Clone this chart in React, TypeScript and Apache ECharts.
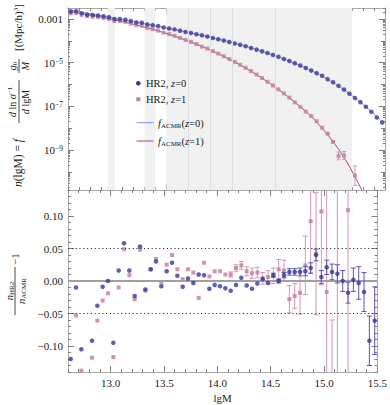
import React, { useEffect, useRef } from "react";
import * as echarts from "echarts";

// ---------- DATA ----------
const lgM = [
  12.625, 12.675, 12.725, 12.775, 12.825, 12.875, 12.925, 12.975,
  13.025, 13.075, 13.125, 13.175, 13.225, 13.275, 13.325, 13.375, 13.425, 13.475,
  13.525, 13.575, 13.625, 13.675, 13.725, 13.775, 13.825, 13.875, 13.925, 13.975,
  14.025, 14.075, 14.125, 14.175, 14.225, 14.275, 14.325, 14.375, 14.425, 14.475,
  14.525, 14.575, 14.625, 14.675, 14.725, 14.775, 14.825, 14.875, 14.925, 14.975,
  15.025, 15.075, 15.125, 15.175, 15.225, 15.275, 15.325, 15.375, 15.425, 15.475,
];

// log10 of f_ACMR model n(lgM)
const modelZ0 = [
  -2.6, -2.645, -2.69, -2.735, -2.781, -2.827, -2.873, -2.919,
  -2.965, -3.011, -3.057, -3.104, -3.151, -3.198, -3.246, -3.294, -3.342, -3.391,
  -3.44, -3.49, -3.541, -3.593, -3.646, -3.7, -3.755, -3.811, -3.868, -3.927,
  -3.988, -4.051, -4.116, -4.183, -4.253, -4.326, -4.402, -4.481, -4.563, -4.649,
  -4.739, -4.833, -4.931, -5.034, -5.141, -5.253, -5.37, -5.492, -5.62, -5.76,
  -5.91, -6.07, -6.24, -6.42, -6.61, -6.81, -7.02, -7.24, -7.47, -7.71,
];
const modelZ1 = [
  -2.67, -2.712, -2.755, -2.799, -2.844, -2.891, -2.94, -2.991,
  -3.044, -3.099, -3.156, -3.215, -3.277, -3.341, -3.408, -3.478, -3.551, -3.627,
  -3.706, -3.789, -3.875, -3.965, -4.059, -4.157, -4.259, -4.366, -4.477, -4.593,
  -4.714, -4.84, -4.971, -5.108, -5.25, -5.398, -5.552, -5.712, -5.878, -6.05,
  -6.229, -6.415, -6.608, -6.808, -7.016, -7.232, -7.456, -7.72, -8.0, -8.3,
  -8.62, -8.96, -9.33, -9.76, -10.22, -10.7, -11.2, -11.72, -12.26, -12.82,
];

// n_HR2 / n_ACMR - 1
const resZ0 = [
  -0.12, -0.01, -0.105, -0.15, -0.092, -0.038, -0.009, 0.0,
  -0.095, 0.016, 0.058, 0.016, -0.023, 0.053, -0.013, 0.018, 0.03, -0.008,
  0.015, 0.028, 0.008, -0.009, 0.004, -0.003, 0.01, 0.009, -0.012, -0.006,
  -0.008, -0.011, -0.015, -0.006, 0.005, -0.007, -0.012, -0.004, 0.003, -0.003,
  0.009, 0.0, 0.009, 0.014, 0.014, 0.014, 0.015, 0.02, 0.04, 0.006,
  0.021, 0.014, 0.011, 0.0, -0.018, 0.002, -0.003, -0.017, -0.092, -0.061,
];
const resZ1: (number | null)[] = [
  -0.16, -0.053, -0.138, -0.16, -0.118, -0.061, -0.03, -0.019,
  -0.117, -0.01, 0.049, 0.009, -0.028, 0.048, -0.015, 0.018, 0.034, -0.002,
  0.025, 0.04, 0.018, 0.003, 0.018, 0.013, -0.026, 0.028, 0.007, 0.015,
  0.015, 0.01, 0.01, 0.02, 0.024, 0.015, 0.012, 0.013, 0.004, 0.006,
  0.008, 0.018, 0.016, -0.028, -0.023, -0.018, 0.024, 0.092, 0.042, 0.107,
  -0.017, -0.51, 0.2, null, 0.109, null, null, null, null, null,
];
// relative error bars (bottom panel)
const errZ0 = [
  0, 0, 0, 0, 0, 0, 0, 0,
  0, 0, 0, 0, 0, 0, 0, 0, 0, 0,
  0, 0, 0, 0, 0, 0, 0, 0, 0, 0,
  0, 0, 0, 0, 0, 0, 0, 0, 0, 0,
  0.003, 0.003, 0.004, 0.005, 0.005, 0.006, 0.007, 0.008, 0.009, 0.01,
  0.011, 0.012, 0.014, 0.016, 0.016, 0.018, 0.025, 0.03, 0.038, 0.052,
];
const errZ1 = [
  0, 0, 0, 0, 0, 0, 0, 0,
  0, 0, 0, 0, 0, 0, 0, 0, 0, 0,
  0, 0, 0, 0, 0, 0, 0, 0, 0, 0,
  0, 0, 0.004, 0.005, 0.006, 0.007, 0.008, 0.008, 0.009, 0.01,
  0.012, 0.015, 0.016, 0.021, 0.019, 0.033, 0.045, 0.08, 0.094, 0.113,
  0.3, 0.45, 0.35, 0, 0.5, 0, 0, 0, 0, 0,
];
// error bars in dex for the top panel (z=1 tail)
const topErrZ1 = [
  0, 0, 0, 0, 0, 0, 0, 0,
  0, 0, 0, 0, 0, 0, 0, 0, 0, 0,
  0, 0, 0, 0, 0, 0, 0, 0, 0, 0,
  0, 0, 0, 0, 0, 0, 0, 0, 0, 0,
  0, 0, 0, 0, 0, 0, 0, 0, 0, 0.03,
  0.05, 0.18, 0.18, 0, 0.45, 0, 0, 0, 0, 0,
];

const xMajorTicks = [13.0, 13.5, 14.0, 14.5, 15.0, 15.5];
const topYMajor = [-3, -5, -7, -9];
const topYDecades = [-4, -6, -8, -10];
const resYMajor = [-0.1, -0.05, 0, 0.05, 0.1];
const bandRanges = [
  [12.965, 13.03],
  [13.3, 13.4],
  [13.5, 15.2],
];
const bandLines = [13.7, 13.9, 14.1, 14.5];

// ---------- STYLE ----------
const SERIF = '"Liberation Serif", "Times New Roman", serif';
const BLUE = "#38389a";
const PINK = "#c47c9e";
const BLUE_LINE = "#8c8dd0";
const PINK_LINE = "#a24c7a";
const BLUE_ERR = "#5656b4";
const PINK_ERR = "#d597b4";
const FRAME = "#a8a8a8";
const TICK = "#808080";
const TXT = "#1a1a1a";

const X_MIN = 12.6, X_MAX = 15.5;
const TOP_MIN = -10.83, TOP_MAX = -2.5;
const RES_MIN = -0.14, RES_MAX = 0.14;

function fmtRes(v: number) {
  const s = Math.abs(v).toFixed(2);
  return v < -1e-9 ? "\u2212" + s : s;
}

function buildOption() {
  const minorX: number[] = [];
  for (let k = 126; k <= 155; k++) if (k % 5 !== 0) minorX.push(k / 10);
  const subTop: number[] = [];
  for (let d = -11; d <= -3; d++) {
    for (let k = 2; k <= 9; k++) {
      const v = d + Math.log10(k);
      if (v > TOP_MIN && v < TOP_MAX) subTop.push(v);
    }
  }
  const minorRes: number[] = [];
  for (let k = -14; k <= 14; k++) if (k % 5 !== 0) minorRes.push(k / 100);

  const xAx = (grid: number, pos: string, ticks: number[], len: number, line: boolean, labels = false) => ({
    type: "value", gridIndex: grid, position: pos, min: X_MIN, max: X_MAX,
    axisLine: { show: line, onZero: false, lineStyle: { color: FRAME, width: 1 } },
    axisTick: { show: true, inside: true, length: len, customValues: ticks, lineStyle: { color: TICK, width: 1 } },
    axisLabel: labels
      ? { show: true, customValues: ticks, margin: 5, color: TXT, fontFamily: SERIF, fontSize: 11,
          formatter: (v: number) => v.toFixed(1), showMaxLabel: true,
          alignMaxLabel: "center", alignMinLabel: "center", hideOverlap: false }
      : { show: false },
    splitLine: { show: false },
    name: labels ? "lgM" : "",
    nameLocation: "middle",
    nameGap: 20,
    nameTextStyle: { color: TXT, fontFamily: SERIF, fontSize: 11 },
  });
  const yAx = (grid: number, pos: string, min: number, max: number, ticks: number[], len: number, line: boolean, label: any = null) => ({
    type: "value", gridIndex: grid, position: pos, min, max,
    axisLine: { show: line, onZero: false, lineStyle: { color: FRAME, width: 1 } },
    axisTick: { show: true, inside: true, length: len, customValues: ticks, lineStyle: { color: TICK, width: 1 } },
    axisLabel: label ? label : { show: false },
    splitLine: { show: false },
  });

  const topLabel = {
    show: true, customValues: topYMajor, margin: 5, color: TXT, fontFamily: SERIF, fontSize: 11,
    formatter: (v: number) => (Math.round(v) === -3 ? "0.001" : "10{sup|\u2212" + Math.abs(Math.round(v)) + "}"),
    rich: { sup: { fontSize: 7.5, fontFamily: SERIF, color: TXT, verticalAlign: "top", lineHeight: 8, padding: [0, 0, 6, 0] } },
  };
  const resLabel = {
    show: true, customValues: resYMajor, margin: 5, color: TXT, fontFamily: SERIF, fontSize: 11,
    formatter: (v: number) => fmtRes(v),
  };

  const topPts0 = lgM.map((x, i) => [x, modelZ0[i] + Math.log10(1 + resZ0[i])]);
  const topPts1 = lgM
    .map((x, i) => (resZ1[i] === null ? null : [x, modelZ1[i] + Math.log10(1 + (resZ1[i] as number))]))
    .filter((p) => p !== null) as number[][];
  const topErr1 = topPts1
    .map((p) => {
      const i = lgM.indexOf(p[0]);
      return topErrZ1[i] > 0 ? [p[0], p[1] - topErrZ1[i], p[1] + topErrZ1[i]] : null;
    })
    .filter((p) => p !== null);

  const botPts0 = lgM.map((x, i) => [x, resZ0[i]]);
  const botPts1 = lgM.map((x, i) => (resZ1[i] === null ? null : [x, resZ1[i]])).filter((p) => p !== null);
  const botErr0 = lgM.map((x, i) => (errZ0[i] > 0 ? [x, resZ0[i] - errZ0[i], resZ0[i] + errZ0[i]] : null)).filter((p) => p !== null);
  const botErr1 = lgM
    .map((x, i) => (errZ1[i] > 0 && resZ1[i] !== null ? [x, (resZ1[i] as number) - errZ1[i], (resZ1[i] as number) + errZ1[i]] : null))
    .filter((p) => p !== null);

  const errRender = (color: string, cap: number) => (params: any, api: any) => {
    const x = api.value(0);
    const a = api.coord([x, api.value(1)]);
    const b = api.coord([x, api.value(2)]);
    const st = { stroke: color, lineWidth: 1 };
    return {
      type: "group",
      children: [
        { type: "line", shape: { x1: a[0], y1: a[1], x2: b[0], y2: b[1] }, style: st },
        { type: "line", shape: { x1: a[0] - cap, y1: a[1], x2: a[0] + cap, y2: a[1] }, style: st },
        { type: "line", shape: { x1: b[0] - cap, y1: b[1], x2: b[0] + cap, y2: b[1] }, style: st },
      ],
    };
  };

  const txtStyle = (text: string, extra: any = {}) => ({
    text,
    fontFamily: SERIF,
    fontSize: 10.5,
    fill: TXT,
    verticalAlign: "middle",
    align: "left",
    rich: {
      i: { fontStyle: "italic", fontFamily: SERIF, fontSize: 10.5, fill: TXT },
      sub: { fontFamily: SERIF, fontSize: 7, fill: TXT, padding: [5, 0, 0, 0] },
      sup: { fontFamily: SERIF, fontSize: 7, fill: TXT, padding: [0, 0, 5, 0] },
    },
    ...extra,
  });

  return {
    animation: false,
    backgroundColor: "#ffffff",
    grid: [
      { left: 68, top: 8, width: 317, height: 182 },
      { left: 68, top: 190, width: 317, height: 182 },
    ],
    xAxis: [
      xAx(0, "bottom", minorX, 3, true),
      xAx(0, "bottom", xMajorTicks, 6, false),
      xAx(0, "top", minorX, 3, true),
      xAx(0, "top", xMajorTicks, 6, false),
      xAx(1, "bottom", minorX, 3, true),
      xAx(1, "bottom", xMajorTicks, 6, false, true),
      xAx(1, "top", minorX, 3, true),
      xAx(1, "top", xMajorTicks, 6, false),
    ],
    yAxis: [
      yAx(0, "left", TOP_MIN, TOP_MAX, topYMajor, 6, true, topLabel),
      yAx(0, "left", TOP_MIN, TOP_MAX, topYDecades, 4, false),
      yAx(0, "left", TOP_MIN, TOP_MAX, subTop, 2, false),
      yAx(0, "right", TOP_MIN, TOP_MAX, topYMajor, 6, true),
      yAx(0, "right", TOP_MIN, TOP_MAX, topYDecades, 4, false),
      yAx(0, "right", TOP_MIN, TOP_MAX, subTop, 2, false),
      yAx(1, "left", RES_MIN, RES_MAX, resYMajor, 6, true, resLabel),
      yAx(1, "left", RES_MIN, RES_MAX, minorRes, 3, false),
      yAx(1, "right", RES_MIN, RES_MAX, resYMajor, 6, true),
      yAx(1, "right", RES_MIN, RES_MAX, minorRes, 3, false),
    ],
    series: [
      {
        type: "line", xAxisIndex: 0, yAxisIndex: 0, data: [], z: 0, silent: true,
        markArea: {
          silent: true,
          itemStyle: { color: "#f1f1f1" },
          data: bandRanges.map(([a, b]) => [{ xAxis: a }, { xAxis: b }]),
        },
        markLine: {
          silent: true, symbol: "none", label: { show: false },
          lineStyle: { color: "#dedede", width: 1, type: "solid" },
          data: bandLines.map((v) => ({ xAxis: v })),
        },
      },
      {
        type: "line", xAxisIndex: 0, yAxisIndex: 0, z: 2, symbol: "none", silent: true,
        lineStyle: { color: BLUE_LINE, width: 1 },
        data: lgM.map((x, i) => [x, modelZ0[i]]),
      },
      {
        type: "line", xAxisIndex: 0, yAxisIndex: 0, z: 2, symbol: "none", silent: true,
        lineStyle: { color: PINK_LINE, width: 1 },
        data: lgM.map((x, i) => [x, modelZ1[i]]),
      },
      {
        type: "custom", xAxisIndex: 0, yAxisIndex: 0, z: 3, clip: true, silent: true,
        renderItem: errRender(PINK_ERR, 2),
        encode: { x: 0, y: [1, 2] },
        data: topErr1,
      },
      {
        type: "scatter", xAxisIndex: 0, yAxisIndex: 0, z: 4, symbol: "rect", symbolSize: 4,
        itemStyle: { color: PINK }, data: topPts1, clip: true, silent: true,
      },
      {
        type: "scatter", xAxisIndex: 0, yAxisIndex: 0, z: 4, symbol: "circle", symbolSize: 4.6,
        itemStyle: { color: BLUE }, data: topPts0, clip: true, silent: true,
      },
      // bottom panel reference lines
      {
        type: "line", xAxisIndex: 4, yAxisIndex: 6, data: [], z: 1, silent: true,
        markLine: {
          silent: true, symbol: "none", label: { show: false },
          data: [
            { yAxis: 0, lineStyle: { color: "#a0a0a0", width: 2, type: "solid" } },
            { yAxis: 0.05, lineStyle: { color: "#333", width: 1, type: [1.2, 2.6] } },
            { yAxis: -0.05, lineStyle: { color: "#333", width: 1, type: [1.2, 2.6] } },
          ],
        },
      },
      {
        type: "custom", xAxisIndex: 4, yAxisIndex: 6, z: 3, clip: true, silent: true,
        renderItem: errRender(PINK_ERR, 2.5),
        encode: { x: 0, y: [1, 2] },
        data: botErr1,
      },
      {
        type: "scatter", xAxisIndex: 4, yAxisIndex: 6, z: 4, symbol: "rect", symbolSize: 4,
        itemStyle: { color: PINK }, data: botPts1, clip: true, silent: true,
      },
      {
        type: "custom", xAxisIndex: 4, yAxisIndex: 6, z: 5, clip: true, silent: true,
        renderItem: errRender(BLUE_ERR, 2.5),
        encode: { x: 0, y: [1, 2] },
        data: botErr0,
      },
      {
        type: "scatter", xAxisIndex: 4, yAxisIndex: 6, z: 6, symbol: "circle", symbolSize: 4.6,
        itemStyle: { color: BLUE }, data: botPts0, clip: true, silent: true,
      },
    ],
    graphic: [
      // legend
      { type: "circle", z: 100, shape: { cx: 138.3, cy: 83.3, r: 2.3 }, style: { fill: BLUE } },
      { type: "text", z: 100, x: 146, y: 83.5, style: txtStyle("HR2, {i|z}=0") },
      { type: "rect", z: 100, shape: { x: 136.3, y: 97.3, width: 4, height: 4 }, style: { fill: PINK } },
      { type: "text", z: 100, x: 146, y: 99.5, style: txtStyle("HR2, {i|z}=1") },
      { type: "line", z: 100, shape: { x1: 136.5, y1: 122.7, x2: 153.5, y2: 122.7 }, style: { stroke: BLUE_LINE, lineWidth: 1 } },
      { type: "text", z: 100, x: 158, y: 123, style: txtStyle("{i|f}{sub|ACMR}({i|z}=0)") },
      { type: "line", z: 100, shape: { x1: 136.5, y1: 141, x2: 153.5, y2: 141 }, style: { stroke: PINK_LINE, lineWidth: 1 } },
      { type: "text", z: 100, x: 158, y: 141.3, style: txtStyle("{i|f}{sub|ACMR}({i|z}=1)") },
      // top y title (rotated)
      {
        type: "group", x: 18, y: 188, rotation: Math.PI / 2, z: 100,
        children: [
          { type: "text", x: 1, y: 0, style: txtStyle("{i|n}(lgM) = {i|f}", { fontSize: 11.5, rich: { i: { fontStyle: "italic", fontFamily: SERIF, fontSize: 11.5, fill: TXT } } }) },
          { type: "text", x: 86, y: -5.5, style: txtStyle("{i|d} ln {i|\u03c3}{sup|\u22121}", { align: "center", fontSize: 10 }) },
          { type: "line", shape: { x1: 65, y1: 1, x2: 108, y2: 1 }, style: { stroke: TXT, lineWidth: 0.8 } },
          { type: "text", x: 86, y: 7, style: txtStyle("{i|d} lgM", { align: "center", fontSize: 10 }) },
          { type: "text", x: 122, y: -5.5, style: txtStyle("{i|g}{sub|0}", { align: "center", fontSize: 10 }) },
          { type: "line", shape: { x1: 115, y1: 1, x2: 129, y2: 1 }, style: { stroke: TXT, lineWidth: 0.8 } },
          { type: "text", x: 122, y: 7, style: txtStyle("{i|M}", { align: "center", fontSize: 10 }) },
          { type: "text", x: 137, y: 0, style: txtStyle("[(Mpc/h){sup|3}]", { fontSize: 11 }) },
        ],
      },
      // bottom y title (rotated)
      {
        type: "group", x: 15, y: 318, rotation: Math.PI / 2, z: 100,
        children: [
          { type: "text", x: 27, y: -6, style: txtStyle("{i|n}{sub|HR2}", { align: "center", fontSize: 11 }) },
          { type: "line", shape: { x1: 3, y1: 0, x2: 51, y2: 0 }, style: { stroke: TXT, lineWidth: 0.8 } },
          { type: "text", x: 27, y: 6.5, style: txtStyle("{i|n}{sub|ACMR}", { align: "center", fontSize: 11 }) },
          { type: "text", x: 53, y: 0, style: txtStyle("\u22121", { fontSize: 11 }) },
        ],
      },
    ],
  };
}

export default function App() {
  const ref = useRef<HTMLDivElement>(null);
  useEffect(() => {
    if (!ref.current) return;
    const chart = echarts.init(ref.current, null, { renderer: "svg" });
    chart.setOption(buildOption() as any);
    return () => chart.dispose();
  }, []);
  return <div ref={ref} style={{ width: 390, height: 405, position: "absolute", left: 0, top: 0 }} />;
}
